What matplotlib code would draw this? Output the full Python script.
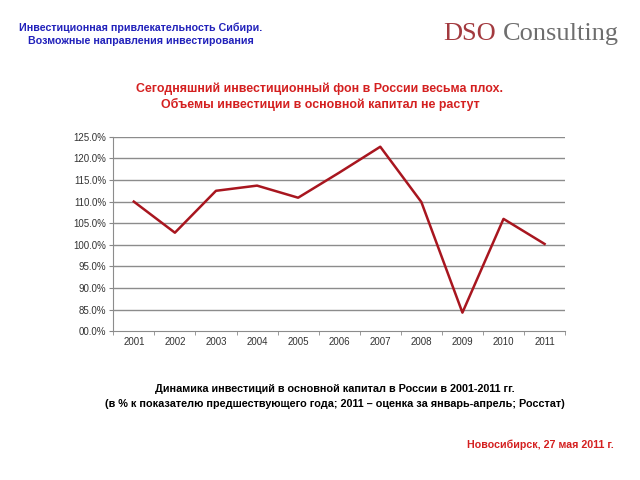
import matplotlib
matplotlib.use("Agg")
import matplotlib.pyplot as plt
import numpy as np

plt.rcParams['font.family'] = ['Liberation Sans', 'DejaVu Sans']

# данные
years = ['2001', '2002', '2003', '2004', '2005', '2006', '2007', '2008', '2009', '2010', '2011']
growth = [110.0, 102.8, 112.5, 113.7, 110.9, 116.7, 122.7, 109.9, 84.3, 106.0, 100.2]
y_ticks = [80, 85, 90, 95, 100, 105, 110, 115, 120, 125]
y_labels = ['00.0%', '85.0%', '90.0%', '95.0%', '100.0%', '105.0%', '110.0%', '115.0%', '120.0%', '125.0%']

fig = plt.figure(figsize=(6.4, 4.8), dpi=100)
ax = fig.add_axes([0.177, 0.310, 0.706, 0.405])

x = np.arange(len(years))
ax.plot(x, growth, color='#a8161f', lw=1.8)

ax.set_xlim(-0.5, len(years) - 0.5)
ax.set_ylim(80, 125)
ax.set_yticks(y_ticks)
ax.set_yticklabels(y_labels, fontsize=7, color='#333333')
ax.set_xticks(x)
ax.set_xticklabels(years, fontsize=7, color='#333333')
ax.tick_params(axis='x', length=0, pad=4)
ax.set_xticks(np.arange(-0.5, len(years), 1), minor=True)
ax.tick_params(axis='x', which='minor', length=3, color='#888888')
ax.tick_params(axis='y', length=3, color='#888888', pad=2)

for v in y_ticks[1:]:
    ax.axhline(v, color='#8c8c8c', lw=1.0, zorder=0)
for s in ['top', 'right']:
    ax.spines[s].set_visible(False)
ax.spines['left'].set_color('#8c8c8c')
ax.spines['bottom'].set_color('#8c8c8c')

# шапка
fig.text(0.22, 0.942, 'Инвестиционная привлекательность Сибири.', color='#2222bb',
         fontsize=7.7, fontweight='bold', ha='center', va='center')
fig.text(0.22, 0.915, 'Возможные направления инвестирования', color='#2222bb',
         fontsize=7.7, fontweight='bold', ha='center', va='center')
fig.text(0.692, 0.930, 'DSO', color='#a33a3f', fontsize=19,
         family=['Liberation Serif', 'DejaVu Serif'], ha='left', va='center')
fig.text(0.786, 0.930, 'Consulting', color='#6e6e6e', fontsize=19,
         family=['Liberation Serif', 'DejaVu Serif'], ha='left', va='center')

# заголовок графика
fig.text(0.50, 0.815, 'Сегодняшний инвестиционный фон в России весьма плох.', color='#d42020',
         fontsize=8.9, fontweight='bold', ha='center', va='center')
fig.text(0.50, 0.783, 'Объемы инвестиции в основной капитал не растут', color='#d42020',
         fontsize=8.9, fontweight='bold', ha='center', va='center')

# подпись
fig.text(0.5235, 0.190, 'Динамика инвестиций в основной капитал в России в 2001-2011 гг.',
         fontsize=7.8, fontweight='bold', ha='center', va='center')
fig.text(0.5235, 0.159, '(в % к показателю предшествующего года; 2011 – оценка за январь-апрель; Росстат)',
         fontsize=7.8, fontweight='bold', ha='center', va='center')
fig.text(0.959, 0.073, 'Новосибирск, 27 мая 2011 г.', color='#d42020',
         fontsize=7.7, fontweight='bold', ha='right', va='center')

fig.savefig('out.png', dpi=100)
